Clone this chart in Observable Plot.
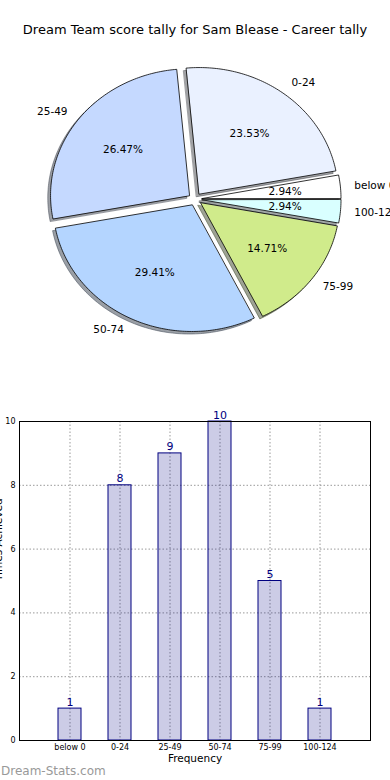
<!DOCTYPE html>
<html><head><meta charset="utf-8">
<script src="https://cdn.jsdelivr.net/npm/d3@7"></script>
<script src="https://cdn.jsdelivr.net/npm/@observablehq/plot@0.6"></script>
<style>
body{margin:0;background:#fff;width:390px;height:780px;position:relative;overflow:hidden;font-family:"DejaVu Sans",sans-serif}
#title{position:absolute;top:21px;left:0;width:390px;text-align:center;font-size:13px;color:#000;line-height:17px;white-space:nowrap}
#pie{position:absolute;top:40px;left:0}
#bar{position:absolute;top:400px;left:0}
#wm{position:absolute;left:1px;top:764px;font-size:12px;color:#999;line-height:14px}
</style></head><body>
<div id="title">Dream Team score tally for Sam Blease - Career tally</div>
<div id="pie"></div>
<div id="bar"></div>
<div id="wm">Dream-Stats.com</div>
<script>
const categories = ["below 0", "0-24", "25-49", "50-74", "75-99", "100-124"];
const counts = [1, 8, 9, 10, 5, 1];
const pieColors = ["#ffffff", "#eaf1ff", "#c5d9ff", "#b4d5ff", "#d0eb8b", "#d9ffff"];
const yTicks = [0, 2, 4, 6, 8, 10];
const chartTitle = "Dream Team score tally for Sam Blease - Career tally";
const xLabel = "Frequency";
const yLabel = "Times Achieved";

const explode = 0.05, shadowOff = 0.02;
const total = d3.sum(counts);
let acc = 0;
const slices = categories.map((c, i) => {
  const f0 = acc / total; acc += counts[i]; const f1 = acc / total;
  const a0 = 2 * Math.PI * f0, a1 = 2 * Math.PI * f1, am = (a0 + a1) / 2;
  return {cat: c, count: counts[i], color: pieColors[i], a0, a1, am,
          ox: explode * Math.cos(am), oy: explode * Math.sin(am),
          pct: (100 * counts[i] / total).toFixed(2) + "%"};
});
function wedgePts(s, dx, dy) {
  const pts = [{k: s.cat, x: s.ox + dx, y: s.oy + dy}];
  const n = Math.max(8, Math.ceil((s.a1 - s.a0) * 60));
  for (let j = 0; j <= n; j++) {
    const t = s.a0 + (s.a1 - s.a0) * j / n;
    pts.push({k: s.cat, x: s.ox + dx + Math.cos(t), y: s.oy + dy + Math.sin(t)});
  }
  return pts;
}
const shade = c => { const r = d3.rgb(c); return d3.rgb(r.r * 0.3, r.g * 0.3, r.b * 0.3).formatHex(); };

const pieMarks = [];
slices.forEach(s => pieMarks.push(Plot.line(wedgePts(s, -shadowOff, -shadowOff), {x: "x", y: "y", curve: "linear-closed", fill: shade(s.color), stroke: shade(s.color), fillOpacity: 0.5, strokeOpacity: 0.5, strokeWidth: 1})));
slices.forEach(s => pieMarks.push(Plot.line(wedgePts(s, 0, 0), {x: "x", y: "y", curve: "linear-closed", fill: s.color, stroke: "#000", strokeWidth: 0.8})));
const lab = slices.map(s => ({x: s.ox + 1.1 * Math.cos(s.am), y: s.oy + 1.1 * Math.sin(s.am), t: s.cat}));
const pctL = slices.map(s => ({x: s.ox + 0.6 * Math.cos(s.am), y: s.oy + 0.6 * Math.sin(s.am), t: s.pct}));
pieMarks.push(Plot.text(lab.filter(d => d.x > 0), {x: "x", y: "y", text: "t", textAnchor: "start", fontSize: 10.5, fill: "#000"}));
pieMarks.push(Plot.text(lab.filter(d => d.x <= 0), {x: "x", y: "y", text: "t", textAnchor: "end", fontSize: 10.5, fill: "#000"}));
pieMarks.push(Plot.text(pctL, {x: "x", y: "y", text: "t", fontSize: 10.5, fill: "#000"}));

document.getElementById("pie").append(Plot.plot({
  width: 390, height: 340, margin: 0,
  style: {fontFamily: "DejaVu Sans", background: "transparent"},
  x: {domain: [-1.4, 1.4058], axis: null},
  y: {domain: [-1.432, 1.2536], axis: null},
  marks: pieMarks
}));

const barData = categories.map((c, i) => ({cat: c, count: counts[i]}));
document.getElementById("bar").append(Plot.plot({
  width: 390, height: 380,
  marginLeft: 19, marginRight: 20, marginTop: 21, marginBottom: 40,
  style: {fontFamily: "DejaVu Sans", fontSize: "8px", background: "transparent", overflow: "visible"},
  x: {type: "band", domain: categories, paddingInner: 0.54, paddingOuter: 0.77, align: 0.5},
  y: {domain: [0, 10]},
  marks: [
    Plot.ruleX(categories, {x: d => d, stroke: "#999", strokeDasharray: "1.5,2"}),
    Plot.ruleY(yTicks.slice(1, -1), {y: d => d, stroke: "#999", strokeDasharray: "1.5,2"}),
    Plot.barY(barData, {x: "cat", y: "count", fill: "#000080", fillOpacity: 0.2, stroke: "#000080", strokeWidth: 1}),
    Plot.text(barData, {x: "cat", y: "count", text: d => String(d.count), dy: -3, lineAnchor: "bottom", fill: "#000080", fontSize: 11}),
    Plot.axisY({ticks: yTicks, tickSize: 0, tickPadding: 4, label: null, fontSize: 8}),
    Plot.axisX({tickSize: 0, tickPadding: 4, label: null, fontSize: 8}),
    Plot.text([xLabel], {frameAnchor: "bottom", dy: 21, text: d => d, fontSize: 10.5, fill: "#000"}),
    Plot.text([yLabel], {frameAnchor: "left", dx: -18, rotate: -90, lineAnchor: "bottom", text: d => d, fontSize: 10.5, fill: "#000"}),
    Plot.frame({stroke: "#000", strokeWidth: 1})
  ]
}));
</script>
</body></html>
